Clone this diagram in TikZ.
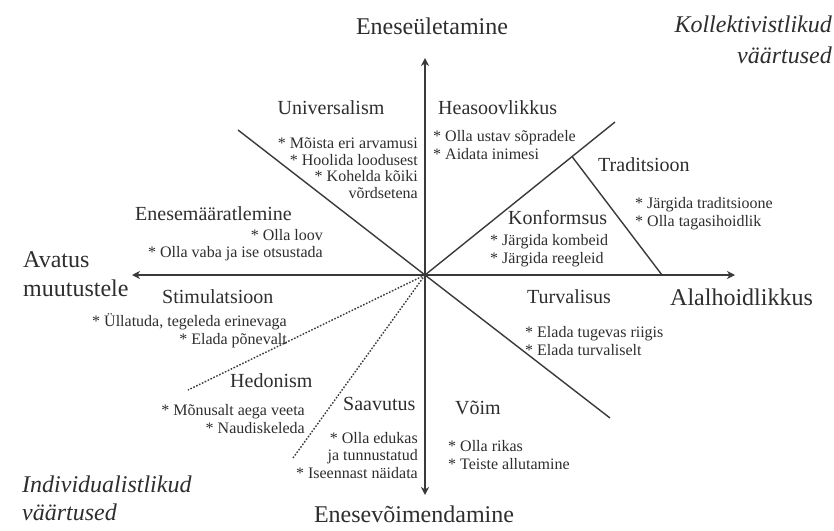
\documentclass[tikz,border=0pt]{standalone}
\usepackage{fontspec}
\setmainfont{Liberation Serif}
\usetikzlibrary{arrows.meta,calc}
\definecolor{ink}{HTML}{2E2E2E}
\definecolor{ln}{HTML}{3A3A3A}
\tikzset{
  txt/.style={inner sep=0pt, text=ink},
  big/.style={txt, font=\fontsize{24}{28}\selectfont},
  cat/.style={txt, font=\fontsize{20}{24}\selectfont},
  item/.style={txt, font=\fontsize{16}{19}\selectfont},
  corner/.style={txt, font=\itshape\fontsize{24}{28}\selectfont},
  axis/.style={draw=ln, line width=1.6pt, -{Stealth[length=8pt,width=8pt,inset=2.5pt]}},
  sep/.style={draw=ln, line width=1.4pt},
  dots/.style={sep, dash pattern=on 1.6pt off 1.6pt},
}
\begin{document}
\begin{tikzpicture}[x=1pt,y=-1pt]
\useasboundingbox[fill=white] (0,0) rectangle (834,530);

% geometry
\coordinate (O) at (425,275);
\coordinate (tUp) at (425,58);
\coordinate (tDown) at (425,495);
\coordinate (tLeft) at (132,275);
\coordinate (tRight) at (735,275);
\coordinate (uEnd) at (238,130);
\coordinate (urEnd) at (615,122);
\coordinate (trTop) at ($(O)!0.774!(urEnd)$);
\coordinate (trBot) at (662,275);
\coordinate (lrEnd) at (610,418);
\coordinate (d1End) at (188,390);
\coordinate (d2End) at (293,458);

% separators
\draw[sep] (uEnd) -- (O);
\draw[sep] (O) -- (urEnd);
\draw[sep] (trTop) -- (trBot);
\draw[sep] (O) -- (lrEnd);
\draw[dots] (O) -- (d1End);
\draw[dots] (O) -- (d2End);

% axes
\draw[axis] (O) -- (tUp);
\draw[axis] (O) -- (tDown);
\draw[axis] (O) -- (tLeft);
\draw[axis] (O) -- (tRight);

% axis labels
\node[big, anchor=base] (top) at (432,34) {Eneseületamine};
\node[big, anchor=base] (bot) at (414,522) {Enesevõimendamine};
\node[big, anchor=base west] (av1) at (23,267) {Avatus};
\node[big, anchor=base west] (av2) at (23,296) {muutustele};
\node[big, anchor=base west] (alal) at (670,305) {Alalhoidlikkus};

% corner labels
\node[corner, anchor=base east] (kol1) at (832,32) {Kollektivistlikud};
\node[corner, anchor=base east] (kol2) at (832,63) {väärtused};
\node[corner, anchor=base west] (ind1) at (22,492) {Individualistlikud};
\node[corner, anchor=base west] (ind2) at (22,520) {väärtused};

% categories
\node[cat, anchor=base] (univ) at (331,114) {Universalism};
\node[cat, anchor=base west] (enes) at (135,220) {Enesemääratlemine};
\node[cat, anchor=base west] (stim) at (162,303) {Stimulatsioon};
\node[cat, anchor=base west] (hedo) at (230,387) {Hedonism};
\node[cat, anchor=base west] (saav) at (343,410) {Saavutus};
\node[cat, anchor=base west] (heas) at (438,114) {Heasoovlikkus};
\node[cat, anchor=base west] (trad) at (598,171) {Traditsioon};
\node[cat, anchor=base west] (konf) at (508,224) {Konformsus};
\node[cat, anchor=base west] (turv) at (527,303) {Turvalisus};
\node[cat, anchor=base west] (voim) at (455,414) {Võim};

% items
\node[item, anchor=base east] (u1) at (418,148) {* Mõista eri arvamusi};
\node[item, anchor=base east] (u2) at (418,165) {* Hoolida loodusest};
\node[item, anchor=base east] (u3) at (418,181) {* Kohelda kõiki};
\node[item, anchor=base east] (u4) at (418,198) {võrdsetena};

\node[item, anchor=base east] (e1) at (323,240) {* Olla loov};
\node[item, anchor=base east] (e2) at (323,257) {* Olla vaba ja ise otsustada};

\node[item, anchor=base east] (s1) at (287,326) {* Üllatuda, tegeleda erinevaga};
\node[item, anchor=base east] (s2) at (287,344) {* Elada põnevalt};

\node[item, anchor=base east] (h1) at (305,415) {* Mõnusalt aega veeta};
\node[item, anchor=base east] (h2) at (305,433) {* Naudiskeleda};

\node[item, anchor=base east] (sa1) at (418,443) {* Olla edukas};
\node[item, anchor=base east] (sa2) at (418,460) {ja tunnustatud};
\node[item, anchor=base east] (sa3) at (418,478) {* Iseennast näidata};

\node[item, anchor=base west] (he1) at (433,141) {* Olla ustav sõpradele};
\node[item, anchor=base west] (he2) at (433,159) {* Aidata inimesi};

\node[item, anchor=base west] (t1) at (635,208) {* Järgida traditsioone};
\node[item, anchor=base west] (t2) at (635,226) {* Olla tagasihoidlik};

\node[item, anchor=base west] (k1) at (490,245) {* Järgida kombeid};
\node[item, anchor=base west] (k2) at (490,263) {* Järgida reegleid};

\node[item, anchor=base west] (tu1) at (525,337) {* Elada tugevas riigis};
\node[item, anchor=base west] (tu2) at (525,355) {* Elada turvaliselt};

\node[item, anchor=base west] (v1) at (448,451) {* Olla rikas};
\node[item, anchor=base west] (v2) at (448,469) {* Teiste allutamine};
\end{tikzpicture}
\end{document}
